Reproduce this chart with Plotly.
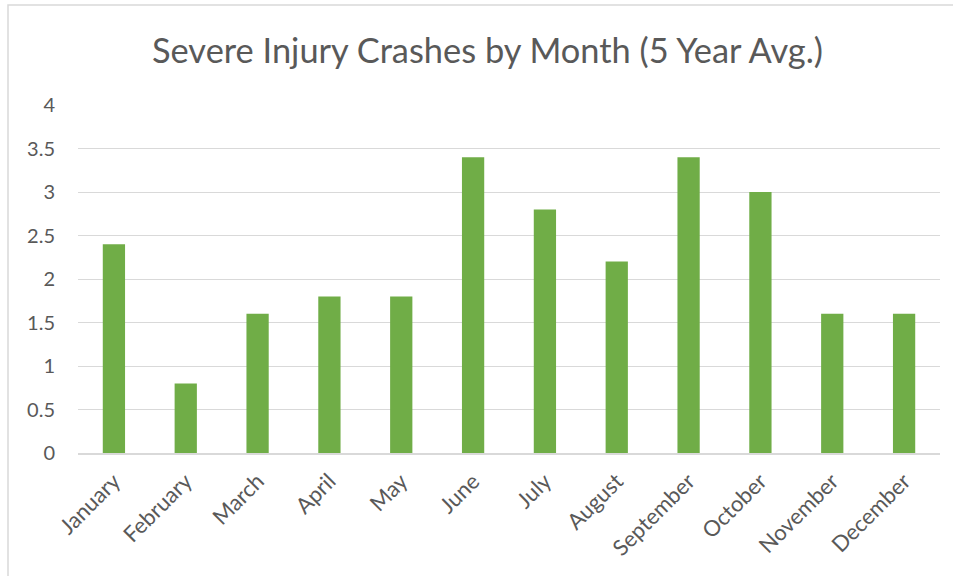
import plotly.graph_objects as go

months = ["January", "February", "March", "April", "May", "June", "July",
          "August", "September", "October", "November", "December"]
crashes = [2.4, 0.8, 1.6, 1.8, 1.8, 3.4, 2.8, 2.2, 3.4, 3.0, 1.6, 1.6]
y_ticks = [0, 0.5, 1, 1.5, 2, 2.5, 3, 3.5, 4]
y_labels = ["0", "0.5", "1", "1.5", "2", "2.5", "3", "3.5", "4"]

FONT = "Lato"
TXT = "#595959"

L, R, T, B = 78, 13, 105, 123
PW, PH = 953 - L - R, 576 - T - B

fig = go.Figure(go.Bar(x=months, y=crashes, marker_color="#70AD47",
                       marker_line_width=0, width=0.31))

fig.update_layout(
    width=953, height=576,
    paper_bgcolor="white", plot_bgcolor="white",
    margin=dict(l=L, r=R, t=T, b=B, autoexpand=False),
    title=dict(text="Severe Injury Crashes by Month (5 Year Avg.)",
               x=487.5 / 953, xanchor="center", y=1 - 51 / 576, yanchor="middle",
               font=dict(family=FONT, size=34.4, color=TXT)),
    font=dict(family=FONT, size=20, color=TXT),
    showlegend=False,
    shapes=[dict(type="rect", xref="paper", yref="paper",
                 x0=-70 / PW, x1=1.1, y0=-0.6, y1=1 + 100 / PH,
                 line=dict(color="#D9D9D9", width=1.5), layer="below")],
)
fig.update_xaxes(tickangle=-45, showgrid=False, showline=True, automargin=False,
                 linecolor="#D9D9D9", linewidth=1.5, ticks="",
                 ticklabelstandoff=5,
                 tickfont=dict(family=FONT, size=22, color=TXT))
fig.update_yaxes(range=[0, 4], tickvals=y_ticks, ticktext=y_labels,
                 showgrid=True, gridcolor="#D9D9D9", gridwidth=1.3,
                 zeroline=False, showline=False, ticks="", automargin=False,
                 ticklabelstandoff=22,
                 tickfont=dict(family=FONT, size=20, color=TXT))

fig.write_html("out.html", config={"displayModeBar": False},
               post_script="document.body.style.margin='0';document.body.style.overflow='hidden';")
